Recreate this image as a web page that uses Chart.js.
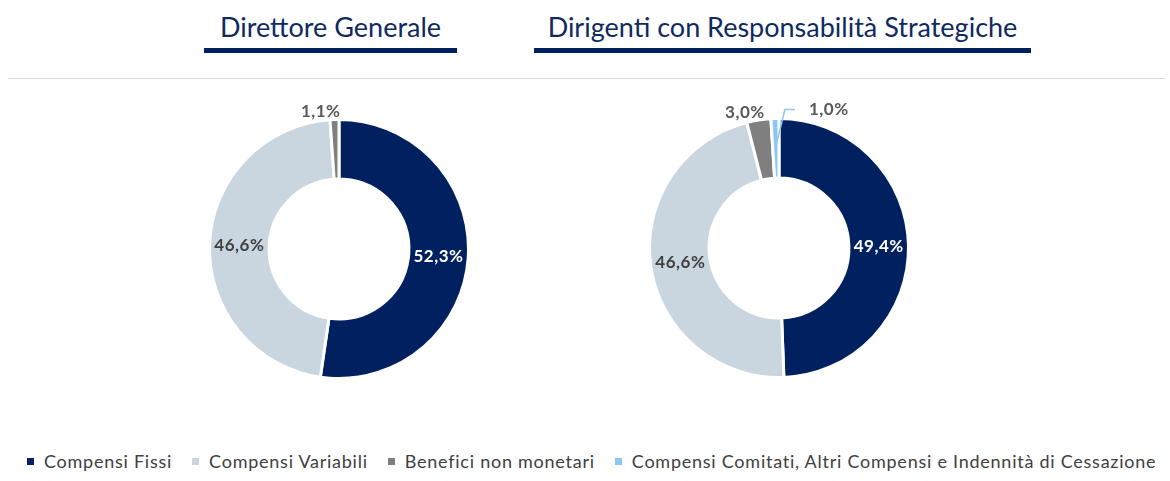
<!DOCTYPE html>
<html lang="it">
<head>
    <meta charset="UTF-8">
    <title>Remunerazione</title>
    <script src="https://cdn.jsdelivr.net/npm/chart.js"></script>
    <style>
        body {
            margin: 0;
            width: 1170px;
            height: 481px;
            background: #ffffff;
            font-family: Lato, "Open Sans", sans-serif;
            position: relative;
            overflow: hidden;
        }
        .title {
            position: absolute;
            top: 10px;
            text-align: center;
            color: #0f2a5f;
            font-size: 27px;
            line-height: 34px;
        }
        .title .bar {
            position: absolute;
            left: 0;
            right: 0;
            top: 38px;
            height: 5px;
            background: #002060;
        }
        .rule {
            position: absolute;
            left: 8px;
            right: 5px;
            top: 78px;
            height: 1px;
            background: #d9d9d9;
        }
        .pie {
            position: absolute;
            width: 300px;
            height: 300px;
        }
        #legend {
            position: absolute;
            left: 27px;
            top: 450px;
            display: flex;
            align-items: center;
            font-size: 18px;
            letter-spacing: 0.75px;
            color: #404040;
            white-space: nowrap;
        }
        #legend span.item {
            display: flex;
            align-items: center;
            margin-right: 20px;
        }
        #legend span.box {
            width: 7px;
            height: 7px;
            margin-right: 10px;
        }
    </style>
</head>
<body>
    <div class="title" id="t1" style="left:204px; width:253px;"><span></span><div class="bar"></div></div>
    <div class="title" id="t2" style="left:534px; width:497px;"><span></span><div class="bar"></div></div>
    <div class="rule"></div>

    <div class="pie" style="left:189px; top:99px;"><canvas id="chartDG"></canvas></div>
    <div class="pie" style="left:629px; top:98px;"><canvas id="chartDRS"></canvas></div>

    <div id="legend"></div>

    <script>
        const titles = ['Direttore Generale', 'Dirigenti con Responsabilità Strategiche'];
        const categories = [
            'Compensi Fissi',
            'Compensi Variabili',
            'Benefici non monetari',
            'Compensi Comitati, Altri Compensi e Indennità di Cessazione'
        ];
        // percentages of total pay
        const direttoreValues = [52.3, 46.6, 1.1];
        const dirigentiValues = [49.4, 46.6, 3.0, 1.0];

        const colors = ['#002060', '#c9d6df', '#7f7f7f', '#8dc8f0'];
        const insideText = ['#ffffff', '#404040', '#ffffff', '#ffffff'];

        document.querySelector('#t1 span').textContent = titles[0];
        document.querySelector('#t2 span').textContent = titles[1];

        // legend under both charts
        const legend = document.getElementById('legend');
        categories.forEach((name, i) => {
            const item = document.createElement('span');
            item.className = 'item';
            item.innerHTML = '<span class="box" style="background:' + colors[i] + '"></span>' + name;
            legend.appendChild(item);
        });

        function fmt(v) {
            return v.toFixed(1).replace('.', ',') + '%';
        }

        // percentage labels: inside the ring for big slices, outside for small ones
        const sliceLabels = {
            id: 'sliceLabels',
            afterDatasetsDraw(chart, args, opts) {
                const ctx = chart.ctx;
                const values = chart.data.datasets[0].data;
                const arcs = chart.getDatasetMeta(0).data;
                ctx.save();
                ctx.font = '700 17px Lato';
                ctx.letterSpacing = '0.5px';
                ctx.textBaseline = 'middle';
                arcs.forEach((arc, i) => {
                    const v = values[i];
                    const mid = (arc.startAngle + arc.endAngle) / 2;
                    const cos = Math.cos(mid), sin = Math.sin(mid);
                    if (v >= 5) {
                        const r = (arc.innerRadius + arc.outerRadius) / 2;
                        ctx.fillStyle = insideText[i];
                        ctx.textAlign = 'center';
                        ctx.fillText(fmt(v), arc.x + cos * r, arc.y + sin * r);
                        return;
                    }
                    const ox = arc.x + cos * arc.outerRadius;
                    const oy = arc.y + sin * arc.outerRadius;
                    ctx.fillStyle = '#595959';
                    if (opts.leader && opts.leader.includes(i)) {
                        const r0 = arc.outerRadius - 28;
                        ctx.strokeStyle = colors[i];
                        ctx.lineWidth = 1.5;
                        ctx.beginPath();
                        ctx.moveTo(arc.x + cos * r0, arc.y + sin * r0);
                        ctx.lineTo(ox + 10, oy - 9);
                        ctx.lineTo(ox + 20, oy - 9);
                        ctx.stroke();
                        ctx.textAlign = 'left';
                        ctx.fillText(fmt(v), ox + 34, oy - 9);
                    } else {
                        ctx.textAlign = 'right';
                        ctx.fillText(fmt(v), ox + 6, oy - 8);
                    }
                });
                ctx.restore();
            }
        };

        function makeDoughnut(id, values, leader) {
            return new Chart(document.getElementById(id), {
                type: 'doughnut',
                data: {
                    labels: categories.slice(0, values.length),
                    datasets: [{
                        data: values,
                        backgroundColor: colors.slice(0, values.length),
                        borderColor: '#ffffff',
                        borderWidth: 3
                    }]
                },
                options: {
                    responsive: false,
                    animation: false,
                    cutout: '54%',
                    layout: { padding: 19 },
                    plugins: {
                        legend: { display: false },
                        tooltip: { enabled: false },
                        sliceLabels: { leader: leader }
                    }
                },
                plugins: [sliceLabels]
            });
        }

        document.getElementById('chartDG').width = 300;
        document.getElementById('chartDG').height = 300;
        document.getElementById('chartDRS').width = 300;
        document.getElementById('chartDRS').height = 300;

        makeDoughnut('chartDG', direttoreValues, []);
        makeDoughnut('chartDRS', dirigentiValues, [3]);
    </script>
</body>
</html>
